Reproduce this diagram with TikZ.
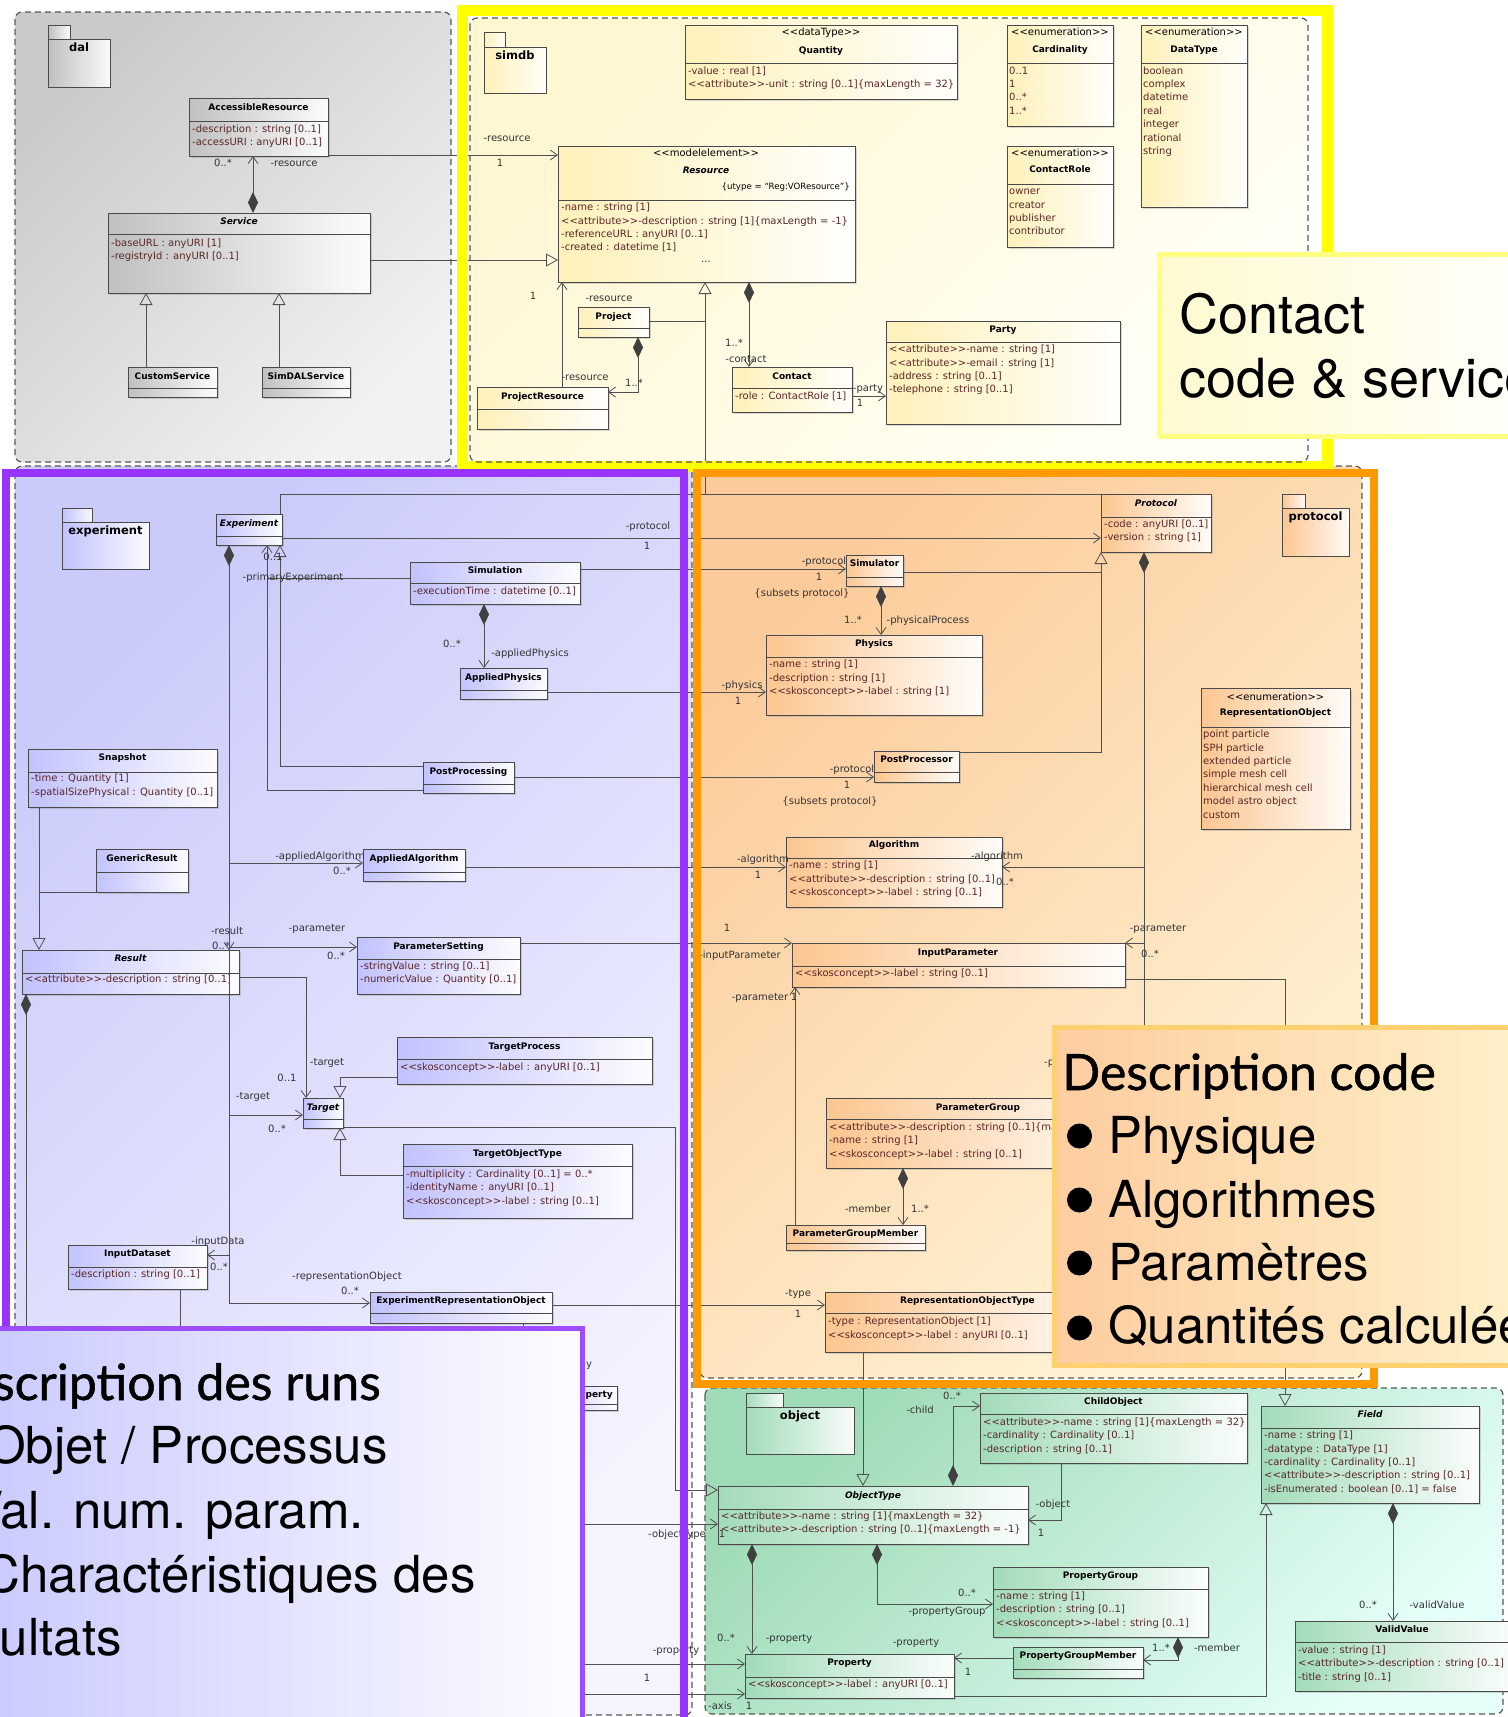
\documentclass[tikz,border=0pt]{standalone}
\usepackage{fontspec}
\setmainfont{DejaVu Sans}
\newfontfamily\helv{TeX Gyre Heros}
\newfontfamily\gill[FakeBold=1]{Lato}
\usetikzlibrary{arrows.meta,shadows}

\definecolor{linec}{HTML}{505050}
\definecolor{boxc}{HTML}{4A4A4A}
\definecolor{attrc}{HTML}{5A2626}
\definecolor{labc}{HTML}{333333}
\definecolor{diac}{HTML}{404040}
\definecolor{dalbg}{HTML}{CACACA}
\definecolor{dalbg2}{HTML}{F2F2F2}
\definecolor{dalcls}{HTML}{C0C0C0}
\definecolor{simbg}{HTML}{FFF6D2}
\definecolor{simbg2}{HTML}{FFFFF7}
\definecolor{simcls}{HTML}{FFF1BA}
\definecolor{expbg}{HTML}{CBCBFB}
\definecolor{expbg2}{HTML}{F5F5FF}
\definecolor{expcls}{HTML}{C2C2FF}
\definecolor{probg}{HTML}{FCCB9B}
\definecolor{probg2}{HTML}{FFF4D6}
\definecolor{procls}{HTML}{FCC690}
\definecolor{objbg}{HTML}{9FDBB6}
\definecolor{objbg2}{HTML}{E6FFF9}
\definecolor{objcls}{HTML}{A2DCB9}
\definecolor{frameY}{HTML}{FFFF00}
\definecolor{frameP}{HTML}{9933FF}
\definecolor{frameO}{HTML}{FF9900}
\definecolor{noteYb}{HTML}{FFFF80}
\definecolor{noteY1}{HTML}{FFFAD0}
\definecolor{noteOb}{HTML}{FFD070}
\definecolor{noteO1}{HTML}{FDCDA0}
\definecolor{noteO2}{HTML}{FFF3CC}
\definecolor{notePb}{HTML}{9B4DFF}
\definecolor{noteP1}{HTML}{C8C8FF}
\definecolor{noteP2}{HTML}{FCFCFF}

\newcommand\ufs{\fontsize{10}{12}\selectfont}
\newcommand\ufst{\fontsize{9}{11}\selectfont\bfseries}
% stereotype brackets, kept as two separate characters
\newcommand\lgl{<{}<}
\newcommand\rgl{>{}>}

\newcounter{tn}
% class box: name, x1, y1, x2, y2, divider y, tint
\newcommand\umlbox[7]{%
  \node[clsbox, left color=#7, right color=#7!5!white,
        minimum width={(#4-#2)*1pt}, minimum height={(#5-#3)*1pt}]
        (#1) at ({(#2+#4)/2},{(#3+#5)/2}) {};
  \draw[boxc, line width=0.8pt] (#1.west |- 0,#6) -- (#1.east |- 0,#6);}
\newcommand\ctitle[3]{\stepcounter{tn}\node[ttl] (tx\arabic{tn}) at (#1,#2) {#3};}
\newcommand\cster[3]{\stepcounter{tn}\node[ster] (tx\arabic{tn}) at (#1,#2) {#3};}
\newcommand\cattr[3]{\stepcounter{tn}\node[attr] (tx\arabic{tn}) at (#1,#2) {#3};}
\newcommand\clab[3]{\stepcounter{tn}\node[lab] (tx\arabic{tn}) at (#1,#2) {#3};}
% package icon: x1, y1, tab x2, tab y2, x2, y2, tint, label
\newcommand\pkgicon[8]{%
  \path[draw=boxc, line width=0.8pt, left color=#7, right color=#7!8!white] (#1,#2) rectangle (#3,#4);
  \path[draw=boxc, line width=0.8pt, left color=#7, right color=#7!8!white] (#1,#4) rectangle (#5,#6);
  \stepcounter{tn}\node[pkglabel] (tx\arabic{tn}) at ({(#1+#5)/2},{#4+10}) {#8};}

\begin{document}
\begin{tikzpicture}[x=1pt,y=-1pt,
  clsbox/.style={rectangle, draw=boxc, line width=0.8pt, inner sep=0pt, outer sep=0pt,
    drop shadow={shadow xshift=1.5pt, shadow yshift=-1.5pt, opacity=0.3}},
  ttl/.style={font=\ufst, text=black, anchor=mid, inner sep=0pt},
  ster/.style={font=\ufs, text=black, anchor=mid, inner sep=0pt},
  attr/.style={font=\ufs, text=attrc, anchor=mid west, inner sep=0pt},
  lab/.style={font=\ufs, text=labc, anchor=mid, inner sep=0pt},
  ln/.style={draw=linec, line width=0.8pt},
  assoc/.style={ln, -{Straight Barb[length=7pt,width=10pt]}},
  gen/.style={ln, -{Triangle[open,length=12pt,width=13pt]}},
  comp/.style={ln, {Diamond[length=21pt,width=10pt,fill=diac,color=diac]}-{Straight Barb[length=7pt,width=10pt]}},
  compo/.style={ln, {Diamond[length=21pt,width=10pt,fill=diac,color=diac]}-},
  pkgedge/.style={draw=black!65, line width=1.2pt, dash pattern=on 6pt off 4pt, rounded corners=7pt},
  pkglabel/.style={font=\fontsize{11.5}{13}\selectfont\bfseries, anchor=mid, inner sep=0pt},
  bigtxt/.style={font=\helv\fontsize{51}{60}\selectfont, anchor=base west, inner sep=0pt},
  bigttl/.style={font=\gill\fontsize{50}{60}\selectfont, anchor=base west, inner sep=0pt}]

\useasboundingbox (0,0) rectangle (1508,1717);
\clip (0,0) rectangle (1508,1717);
\fill[white] (0,0) rectangle (1508,1717);

% ================= package backgrounds =================
\path[top color=dalbg, bottom color=dalbg2, shading angle=45, rounded corners=7pt] (15,12) rectangle (451,462);
\draw[pkgedge] (15,12) rectangle (451,462);
\path[top color=simbg, bottom color=simbg2, shading angle=45, rounded corners=7pt] (470,18) rectangle (1308,462);
\path[top color=expbg, bottom color=expbg2, shading angle=45, rounded corners=7pt] (15,466) rectangle (692,1715);
\draw[pkgedge] (15,466) rectangle (692,1715);
\path[top color=probg, bottom color=probg2, shading angle=45, rounded corners=7pt] (700,466) rectangle (1362,1378);
\draw[pkgedge] (700,466) rectangle (1362,1378);
\path[top color=objbg, bottom color=objbg2, shading angle=45, rounded corners=7pt] (705,1388) rectangle (1503,1714);
\draw[pkgedge] (705,1388) rectangle (1503,1714);

\pkgicon{48}{25}{70}{39}{110}{87}{dalcls}{dal}
\pkgicon{484}{32}{505}{47}{546}{93}{simcls}{simdb}
\pkgicon{62}{508}{92}{522}{149}{569}{expcls}{experiment}
\pkgicon{1282}{494}{1305}{508}{1349}{556}{procls}{protocol}
\pkgicon{746}{1393}{783}{1407}{854}{1454}{objcls}{object}

% ================= dal =================
\umlbox{accres}{189}{98}{328}{156}{121}{dalcls}
\ctitle{258.5}{108}{AccessibleResource}
\cattr{192}{129.5}{-description : string [0..1]}
\cattr{192}{142.5}{-accessURI : anyURI [0..1]}
\umlbox{service}{108}{213}{370}{293}{234}{dalcls}
\ctitle{239}{221.5}{\itshape Service}
\cattr{111}{243.5}{-baseURL : anyURI [1]}
\cattr{111}{257}{-registryId : anyURI [0..1]}
\umlbox{custsvc}{128}{367}{217}{397}{388}{dalcls}
\ctitle{172.5}{376.5}{CustomService}
\umlbox{simdalsvc}{262}{367}{350}{397}{388}{dalcls}
\ctitle{306}{376.5}{SimDALService}

% ================= simdb =================
\umlbox{quantity}{685}{25}{957}{99}{63}{simcls}
\cster{821}{33}{\lgl dataType\rgl}
\ctitle{821}{51}{Quantity}
\cattr{688}{72}{-value : real [1]}
\cattr{688}{85}{\lgl attribute\rgl-unit : string [0..1]\{maxLength = 32\}}

\umlbox{resource}{558}{146}{855}{282}{200}{simcls}
\cster{706}{154}{\lgl modelelement\rgl}
\ctitle{706}{171}{\itshape Resource}
\node[font=\fontsize{8.6}{10}\selectfont, anchor=mid east, inner sep=0pt] (utype) at (850,187) {\{utype = “Reg:VOResource”\}};
\cattr{561}{208}{-name : string [1]}
\cattr{561}{222}{\lgl attribute\rgl-description : string [1]\{maxLength = -1\}}
\cattr{561}{235}{-referenceURL : anyURI [0..1]}
\cattr{561}{248}{-created : datetime [1]}
\clab{706}{260}{...}

\umlbox{cardinality}{1007}{25}{1113}{126}{63}{simcls}
\cster{1060}{33}{\lgl enumeration\rgl}
\ctitle{1060}{50}{Cardinality}
\cattr{1009}{72}{0..1}
\cattr{1009}{85}{1}
\cattr{1009}{98}{0..*}
\cattr{1009}{112}{1..*}

\umlbox{datatype}{1141}{25}{1247}{207}{63}{simcls}
\cster{1194}{33}{\lgl enumeration\rgl}
\ctitle{1194}{50}{DataType}
\cattr{1143}{72}{boolean}
\cattr{1143}{85}{complex}
\cattr{1143}{98}{datetime}
\cattr{1143}{112}{real}
\cattr{1143}{125}{integer}
\cattr{1143}{139}{rational}
\cattr{1143}{152}{string}

\umlbox{contactrole}{1007}{146}{1113}{247}{184}{simcls}
\cster{1060}{154}{\lgl enumeration\rgl}
\ctitle{1060}{170}{ContactRole}
\cattr{1009}{192}{owner}
\cattr{1009}{206}{creator}
\cattr{1009}{219}{publisher}
\cattr{1009}{232}{contributor}

\umlbox{party}{886}{321}{1120}{424}{342}{simcls}
\ctitle{1003}{329.5}{Party}
\cattr{889}{350}{\lgl attribute\rgl-name : string [1]}
\cattr{889}{364}{\lgl attribute\rgl-email : string [1]}
\cattr{889}{377}{-address : string [0..1]}
\cattr{889}{390}{-telephone : string [0..1]}

\umlbox{contact}{732}{367}{852}{412}{388}{simcls}
\ctitle{792}{376.5}{Contact}
\cattr{735}{397}{-role : ContactRole [1]}

\umlbox{project}{578}{307}{649}{337}{328}{simcls}
\ctitle{613.5}{316.5}{Project}
\umlbox{projres}{477}{387}{608}{429}{409}{simcls}
\ctitle{542.5}{396.5}{ProjectResource}

% ================= experiment =================
\umlbox{experiment}{216}{514}{282}{545}{536}{expcls}
\ctitle{249}{523.5}{\itshape Experiment}
\umlbox{simulation}{410}{562}{580}{604}{583}{expcls}
\ctitle{495}{570.5}{Simulation}
\cattr{413}{592}{-executionTime : datetime [0..1]}
\umlbox{applphys}{460}{668}{547}{699}{690}{expcls}
\ctitle{503.5}{677.5}{AppliedPhysics}
\umlbox{postproc}{423}{762}{514}{793}{784}{expcls}
\ctitle{468.5}{772}{PostProcessing}
\umlbox{snapshot}{28}{749}{217}{807}{772}{expcls}
\ctitle{122.5}{757.5}{Snapshot}
\cattr{31}{779}{-time : Quantity [1]}
\cattr{31}{793}{-spatialSizePhysical : Quantity [0..1]}
\umlbox{genres}{96}{849}{188}{892}{872}{expcls}
\ctitle{142}{858.5}{GenericResult}
\umlbox{applalg}{363}{849}{465}{881}{872}{expcls}
\ctitle{414}{858.5}{AppliedAlgorithm}
\umlbox{result}{22}{950}{239}{994}{973}{expcls}
\ctitle{130.5}{958.5}{\itshape Result}
\cattr{25}{980}{\lgl attribute\rgl-description : string [0..1]}
\umlbox{paramset}{357}{937}{520}{994}{959}{expcls}
\ctitle{438.5}{946.5}{ParameterSetting}
\cattr{360}{967}{-stringValue : string [0..1]}
\cattr{360}{980}{-numericValue : Quantity [0..1]}
\umlbox{tgtproc}{397}{1037}{652}{1084}{1059}{expcls}
\ctitle{524.5}{1046.5}{TargetProcess}
\cattr{400}{1068}{\lgl skosconcept\rgl-label : anyURI [0..1]}
\umlbox{target}{303}{1098}{343}{1128}{1119}{expcls}
\ctitle{323}{1107.5}{\itshape Target}
\umlbox{tgtobj}{403}{1144}{632}{1218}{1166}{expcls}
\ctitle{517.5}{1153.5}{TargetObjectType}
\cattr{406}{1175}{-multiplicity : Cardinality [0..1] = 0..*}
\cattr{406}{1188}{-identityName : anyURI [0..1]}
\cattr{406}{1202}{\lgl skosconcept\rgl-label : string [0..1]}
\umlbox{inds}{68}{1245}{207}{1289}{1267}{expcls}
\ctitle{137.5}{1253.5}{InputDataset}
\cattr{71}{1275}{-description : string [0..1]}
\umlbox{exprep}{370}{1292}{552}{1323}{1313}{expcls}
\ctitle{461}{1300.5}{ExperimentRepresentationObject}
\umlbox{partbox}{540}{1386}{617}{1410}{1404}{expcls}
\node[ttl, anchor=mid east] (partttl) at (613,1395) {perty};

% ================= protocol =================
\umlbox{protocol}{1101}{494}{1211}{552}{517}{procls}
\ctitle{1156}{503.5}{\itshape Protocol}
\cattr{1104}{525}{-code : anyURI [0..1]}
\cattr{1104}{538}{-version : string [1]}
\umlbox{simulator}{846}{555}{903}{586}{577}{procls}
\ctitle{874.5}{563.5}{Simulator}
\umlbox{physics}{766}{635}{982}{715}{657}{procls}
\ctitle{874}{643.5}{Physics}
\cattr{769}{665}{-name : string [1]}
\cattr{769}{679}{-description : string [1]}
\cattr{769}{692}{\lgl skosconcept\rgl-label : string [1]}
\umlbox{postprocr}{874}{751}{959}{782}{772}{procls}
\ctitle{916.5}{759.5}{PostProcessor}
\umlbox{algorithm}{786}{837}{1002}{907}{858}{procls}
\ctitle{894}{844.5}{Algorithm}
\cattr{789}{866}{-name : string [1]}
\cattr{789}{880}{\lgl attribute\rgl-description : string [0..1]}
\cattr{789}{893}{\lgl skosconcept\rgl-label : string [0..1]}
\umlbox{repobj}{1201}{688}{1350}{829}{727}{procls}
\cster{1275.5}{698}{\lgl enumeration\rgl}
\ctitle{1275.5}{713}{RepresentationObject}
\cattr{1203}{735}{point particle}
\cattr{1203}{749}{SPH particle}
\cattr{1203}{762}{extended particle}
\cattr{1203}{775}{simple mesh cell}
\cattr{1203}{789}{hierarchical mesh cell}
\cattr{1203}{802}{model astro object}
\cattr{1203}{816}{custom}
\umlbox{inparam}{792}{943}{1125}{987}{966}{procls}
\ctitle{958}{953}{InputParameter}
\cattr{795}{974}{\lgl skosconcept\rgl-label : string [0..1]}
\umlbox{paramgroup}{826}{1098}{1130}{1168}{1119}{procls}
\ctitle{978}{1107.5}{ParameterGroup}
\cattr{829}{1128}{\lgl attribute\rgl-description : string [0..1]\{maxLength = -1\}}
\cattr{829}{1141}{-name : string [1]}
\cattr{829}{1155}{\lgl skosconcept\rgl-label : string [0..1]}
\umlbox{pgm}{786}{1225}{925}{1250}{1243}{procls}
\ctitle{855.5}{1233.5}{ParameterGroupMember}
\umlbox{repobjtype}{825}{1292}{1110}{1352}{1313}{procls}
\ctitle{967.5}{1300.5}{RepresentationObjectType}
\cattr{828}{1322}{-type : RepresentationObject [1]}
\cattr{828}{1336}{\lgl skosconcept\rgl-label : anyURI [0..1]}

% ================= object =================
\umlbox{objtype}{718}{1486}{1028}{1544}{1509}{objcls}
\ctitle{873}{1495.5}{\itshape ObjectType}
\cattr{721}{1517}{\lgl attribute\rgl-name : string [1]\{maxLength = 32\}}
\cattr{721}{1530}{\lgl attribute\rgl-description : string [0..1]\{maxLength = -1\}}
\umlbox{childobj}{980}{1393}{1247}{1463}{1414}{objcls}
\ctitle{1113.5}{1401.5}{ChildObject}
\cattr{983}{1423}{\lgl attribute\rgl-name : string [1]\{maxLength = 32\}}
\cattr{983}{1436}{-cardinality : Cardinality [0..1]}
\cattr{983}{1450}{-description : string [0..1]}
\umlbox{propgroup}{993}{1567}{1208}{1637}{1589}{objcls}
\ctitle{1100.5}{1575.5}{PropertyGroup}
\cattr{996}{1597}{-name : string [1]}
\cattr{996}{1610}{-description : string [0..1]}
\cattr{996}{1624}{\lgl skosconcept\rgl-label : string [0..1]}
\umlbox{pgmember}{1013}{1647}{1143}{1678}{1669}{objcls}
\ctitle{1078}{1655.5}{PropertyGroupMember}
\umlbox{property}{745}{1654}{954}{1698}{1677}{objcls}
\ctitle{849.5}{1662.5}{Property}
\cattr{748}{1685}{\lgl skosconcept\rgl-label : anyURI [0..1]}
\umlbox{field}{1261}{1406}{1479}{1503}{1428}{objcls}
\ctitle{1370}{1414.5}{\itshape Field}
\cattr{1264}{1436}{-name : string [1]}
\cattr{1264}{1450}{-datatype : DataType [1]}
\cattr{1264}{1463}{-cardinality : Cardinality [0..1]}
\cattr{1264}{1476}{\lgl attribute\rgl-description : string [0..1]}
\cattr{1264}{1490}{-isEnumerated : boolean [0..1] = false}
\umlbox{validvalue}{1295}{1621}{1512}{1691}{1642}{objcls}
\ctitle{1402}{1629.5}{ValidValue}
\cattr{1298}{1651}{-value : string [1]}
\cattr{1298}{1664}{\lgl attribute\rgl-description : string [0..1]}
\cattr{1298}{1678}{-title : string [0..1]}

% ================= connectors =================
% dal
\draw[comp] (service.north -| 253,0) -- (accres.south -| 253,0);
\draw[gen] (custsvc.north -| 146,0) -- (service.south -| 146,0);
\draw[gen] (simdalsvc.north -| 279,0) -- (service.south -| 279,0);
\draw[gen] (service.east |- 0,260) -- (resource.west |- 0,260);
\draw[assoc] (accres.east |- 0,155) -- (resource.west |- 0,155);
% simdb
\draw[assoc] (projres.north -| 562,0) -- (resource.south -| 562,0);
\draw[comp] (project.south -| 638,0) -- (638,392) -- (projres.east |- 0,392);
\draw[gen] (protocol.north west) -- (705,494) -- (resource.south -| 705,0);
\draw[ln] (project.east |- 0,321) -- (705,321);
\draw[ln] (experiment.north -| 280,0) -- (280,494) -- (705,494);
\draw[comp] (resource.south -| 749,0) -- (contact.north -| 749,0);
\draw[assoc] (contact.east |- 0,396) -- (party.west |- 0,396);
% experiment
\coordinate (jExpAlg) at (229,863);
\coordinate (jExpRes) at (229,932);
\coordinate (jExpPar) at (229,947);
\coordinate (jExpTgt) at (229,1115);
\coordinate (jExpIn) at (229,1255);
\draw[assoc] (experiment.east |- 0,538) -- (protocol.west |- 0,538);
\draw[comp] (experiment.south -| 229,0) -- (229,1303) -- (exprep.west |- 0,1303);
\draw[assoc] (jExpAlg) -- (applalg.west |- jExpAlg);
\draw[assoc] (jExpRes) -- (result.north -| jExpRes);
\draw[assoc] (jExpPar) -- (paramset.west |- jExpPar);
\draw[assoc] (jExpTgt) -- (target.west |- jExpTgt);
\draw[assoc] (jExpIn) -- (inds.east |- jExpIn);
\draw[assoc] (simulation.west |- 0,578) -- (267,578) -- (experiment.south -| 267,0);
\draw[ln] (postproc.west |- 0,790) -- (267,790) -- (267,578);
\draw[gen] (postproc.west |- 0,766) -- (280,766) -- (experiment.south -| 280,0);
\draw[comp] (simulation.south -| 484,0) -- (applphys.north -| 484,0);
\draw[assoc] (simulation.east |- 0,569) -- (simulator.west |- 0,569);
\draw[assoc] (applphys.east |- 0,692) -- (physics.west |- 0,692);
\draw[comp] (simulator.south -| 881,0) -- (physics.north -| 881,0);
\draw[assoc] (postproc.east |- 0,777) -- (postprocr.west |- 0,777);
\draw[gen] (postprocr.east |- 0,752) -- (1101,752) -- (protocol.south west);
\draw[ln] (simulator.east |- 0,572) -- (1101,572);
\coordinate (jProAlg) at (1144,867);
\coordinate (jProPar) at (1144,943);
\draw[compo] (protocol.south -| 1144,0) -- (1144,1085) -- (1110,1085) -- (paramgroup.north -| 1110,0);
\draw[assoc] (jProAlg) -- (algorithm.east |- jProAlg);
\draw[assoc] (jProPar) -- (inparam.east |- jProPar);
\draw[assoc] (paramset.east |- 0,943) -- (inparam.west |- 0,943);
\draw[gen] (inparam.east |- 0,979) -- (1285,979) -- (field.north -| 1285,0);
\draw[assoc] (applalg.east |- 0,867) -- (algorithm.west |- 0,867);
\draw[gen] (snapshot.south -| 39,0) -- (result.north -| 39,0);
\draw[ln] (genres.south west) -- (genres.south west -| 39,0);
\draw[compo] (result.south -| 26,0) -- (26,1345);
\draw[assoc] (result.east |- 0,977) -- (306,977) -- (target.north -| 306,0);
\draw[gen] (tgtproc.west |- 0,1077) -- (340,1077) -- (target.north -| 340,0);
\draw[gen] (tgtobj.west |- 0,1175) -- (340,1175) -- (target.south -| 340,0);
\draw[gen] (target.east |- 0,1127) -- (675,1127) -- (675,1490) -- (objtype.west |- 0,1490);
\draw[assoc] (exprep.east |- 0,1305) -- (repobjtype.west |- 0,1305);
\draw[gen] (repobjtype.south -| 863,0) -- (objtype.north -| 863,0);
\draw[ln] (exprep.south -| 523,0) -- (523,1345);
\draw[ln] (inds.south -| 180,0) -- (180,1345);
\coordinate (hidOT) at (560,1524);
\coordinate (hidPr) at (560,1664);
\coordinate (hidAx) at (560,1694);
\draw[assoc] (hidOT) -- (objtype.west |- hidOT);
\draw[assoc] (hidPr) -- (property.west |- hidPr);
\draw[assoc] (hidAx) -- (property.west |- hidAx);
% object
\draw[comp] (objtype.south -| 752,0) -- (property.north -| 752,0);
\draw[comp] (objtype.south -| 877,0) -- (877,1604) -- (propgroup.west |- 0,1604);
\draw[comp] (objtype.north -| 953,0) -- (953,1406) -- (childobj.west |- 0,1406);
\draw[assoc] (childobj.south -| 1061,0) -- (1061,1520) -- (objtype.east |- 0,1520);
\draw[comp] (propgroup.south -| 1178,0) -- (1178,1660) -- (pgmember.east |- 0,1660);
\draw[assoc] (pgmember.west |- 0,1658) -- (property.east |- 0,1658);
\draw[gen] (property.east |- 0,1696) -- (1266,1696) -- (field.south -| 1266,0);
\draw[comp] (field.south -| 1393,0) -- (validvalue.north -| 1393,0);
\draw[comp] (paramgroup.south -| 903,0) -- (pgm.north -| 903,0);
\draw[assoc] (pgm.north -| 795,0) -- (inparam.south -| 795,0);

% ================= role and multiplicity labels =================
\clab{223}{164}{0..*}
\clab{294}{164}{-resource}
\clab{507}{139}{-resource}
\clab{500}{164}{1}
\clab{533}{297}{1}
\clab{609}{299}{-resource}
\clab{585}{378}{-resource}
\clab{634}{384}{1..*}
\clab{734}{344}{1..*}
\clab{746}{360}{-contact}
\clab{868}{389}{-party}
\clab{860}{404}{1}
\clab{648}{527}{-protocol}
\clab{647}{547}{1}
\clab{273}{558}{0..1}
\clab{293}{578}{-primaryExperiment}
\clab{452}{645}{0..*}
\clab{530}{654}{-appliedPhysics}
\clab{320}{857}{-appliedAlgorithm}
\clab{342}{872}{0..*}
\clab{227}{932}{-result}
\clab{221}{947}{0..*}
\clab{317}{929}{-parameter}
\clab{336}{957}{0..*}
\clab{327}{1063}{-target}
\clab{287}{1079}{0..1}
\clab{253}{1097}{-target}
\clab{277}{1130}{0..*}
\clab{218}{1242}{-inputData}
\clab{219}{1268}{0..*}
\clab{347}{1277}{-representationObject}
\clab{350}{1292}{0..*}
\clab{589}{1365}{y}
\clab{824}{562}{-protocol}
\clab{819}{578}{1}
\clab{802}{594}{\{subsets protocol\}}
\clab{853}{621}{1..*}
\clab{928}{621}{-physicalProcess}
\clab{742}{686}{-physics}
\clab{738}{702}{1}
\clab{852}{770}{-protocol}
\clab{847}{786}{1}
\clab{830}{802}{\{subsets protocol\}}
\clab{763}{860}{-algorithm}
\clab{758}{876}{1}
\clab{997}{857}{-algorithm}
\clab{1005}{883}{0..*}
\clab{727}{929}{1}
\clab{740}{956}{-inputParameter}
\clab{1158}{929}{-parameter}
\clab{1150}{955}{0..*}
\clab{760}{998}{-parameter}
\clab{794}{998}{1}
\clab{868}{1210}{-member}
\clab{920}{1210}{1..*}
\clab{798}{1294}{-type}
\clab{798}{1315}{1}
\node[lab, anchor=mid west] (pglab) at (1044,1063) {-parameterGroup};
\clab{677}{1535}{-objectType}
\clab{722}{1535}{1}
\clab{676}{1651}{-property}
\clab{647}{1679}{1}
\clab{720}{1707}{-axis}
\clab{749}{1707}{1}
\clab{726}{1639}{0..*}
\clab{789}{1639}{-property}
\clab{967}{1594}{0..*}
\clab{947}{1612}{-propertyGroup}
\clab{952}{1397}{0..*}
\clab{920}{1411}{-child}
\clab{1053}{1505}{-object}
\clab{1041}{1534}{1}
\clab{1161}{1649}{1..*}
\clab{1217}{1649}{-member}
\clab{916}{1643}{-property}
\clab{968}{1673}{1}
\clab{1368}{1606}{0..*}
\clab{1437}{1606}{-validValue}

% ================= highlight frames =================
\draw[frameY, line width=11pt] (462,10) rectangle (1327,466);
\draw[pkgedge] (470,18) rectangle (1308,462);
\draw[frameP, line width=8pt] (6,473) rectangle (684,1760);
\draw[frameO, line width=8pt] (697,473) rectangle (1374,1384);

% ================= notes =================
\path[draw=noteYb, line width=5pt, left color=noteY1, right color=white] (1159.5,254.5) rectangle (1560,436.5);
\node[bigtxt, font=\helv\fontsize{54}{60}\selectfont] (nContact) at (1179,333) {Contact};
\node[bigtxt, font=\helv\fontsize{54}{60}\selectfont] (nCodeSvc) at (1179,397) {code \& service};

\path[draw=noteOb, line width=5pt, left color=noteO1, right color=noteO2] (1054.5,1027.5) rectangle (1560,1365.5);
\node[bigttl] (nDescCode) at (1062,1090) {Description code};
\fill (1079.5,1136) circle (12.5pt);
\fill (1079.5,1200) circle (12.5pt);
\fill (1079.5,1263) circle (12.5pt);
\fill (1079.5,1328) circle (12.5pt);
\node[bigtxt] (nPhys) at (1108,1153) {Physique};
\node[bigtxt] (nAlgo) at (1108,1217) {Algorithmes};
\node[bigtxt] (nPara) at (1108,1280) {Paramètres};
\node[bigtxt] (nQuan) at (1108,1343) {Quantités calculées};

\path[draw=notePb, line width=5pt, left color=noteP1, right color=noteP2] (-40,1328.5) rectangle (582.5,1780);
\node[bigttl, anchor=base east] (nRuns) at (381,1400) {Description des runs};
\node[bigtxt, anchor=base east] (nObj) at (388,1463) {Objet / Processus};
\node[bigtxt, anchor=base east] (nVal) at (364,1528) {Val. num. param.};
\node[bigtxt, anchor=base east] (nChar) at (476,1592) {Charactéristiques des};
\node[bigtxt, anchor=base east] (nRes) at (122,1655) {résultats};
\end{tikzpicture}
\end{document}
